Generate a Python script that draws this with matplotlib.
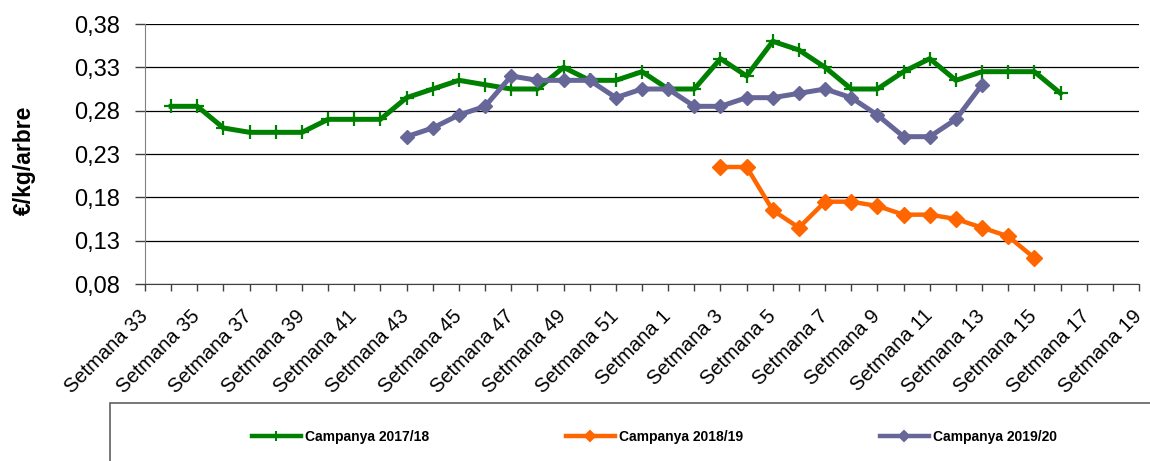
import matplotlib
matplotlib.use("Agg")
import matplotlib.pyplot as plt
import matplotlib.patches as patches
import matplotlib.transforms as mtransforms
import numpy as np

plt.rcParams['font.family'] = ['Liberation Sans', 'DejaVu Sans']

nan = np.nan

# setmanes de la campanya (33..52, 1..19)
setmanes = list(range(33, 53)) + list(range(1, 20))
etiquetes = ["Setmana %d" % s for s in setmanes]

# preus (€/kg/arbre)
campanya_1718 = [nan, 0.285, 0.285, 0.26, 0.255, 0.255, 0.255, 0.27, 0.27, 0.27,
                 0.295, 0.305, 0.315, 0.31, 0.305, 0.305, 0.33, 0.315, 0.315, 0.325,
                 0.305, 0.305, 0.34, 0.32, 0.36, 0.35, 0.33, 0.305, 0.305, 0.325,
                 0.34, 0.315, 0.325, 0.325, 0.325, 0.30, nan, nan, nan]
campanya_1819 = [nan] * 22 + [0.215, 0.215, 0.165, 0.145, 0.175, 0.175, 0.17, 0.16,
                              0.16, 0.155, 0.145, 0.135, 0.11] + [nan] * 4
campanya_1920 = [nan] * 10 + [0.25, 0.26, 0.275, 0.285, 0.32, 0.315, 0.315, 0.315,
                              0.295, 0.305, 0.305, 0.285, 0.285, 0.295, 0.295, 0.30,
                              0.305, 0.295, 0.275, 0.25, 0.25, 0.27, 0.31] + [nan] * 6

yticks = [0.08, 0.13, 0.18, 0.23, 0.28, 0.33, 0.38]

W, H = 1150, 461
fig = plt.figure(figsize=(W / 100, H / 100), dpi=100)
ax = fig.add_axes([145 / W, 1 - 284 / H, (1139 - 145) / W, (284 - 24) / H])

x = np.arange(len(setmanes))
l1, = ax.plot(x, campanya_1718, color='#008000', lw=3.6, marker='+', ms=10, mew=1.6,
              label='Campanya 2017/18', zorder=3)
l2, = ax.plot(x, campanya_1819, color='#FF6600', lw=3.2, marker='D', ms=8.5,
              label='Campanya 2018/19', zorder=3)
l3, = ax.plot(x, campanya_1920, color='#666699', lw=3.6, marker='D', ms=7.5,
              label='Campanya 2019/20', zorder=4)

ax.set_xlim(0, len(setmanes) - 1)
ax.set_ylim(0.08, 0.38)
ax.set_yticks(yticks)
ax.set_yticklabels([("%.2f" % v).replace('.', ',') for v in yticks], fontsize=17)
ax.set_xticks(x)
ax.tick_params(axis='x', length=5, width=1, color='#404040', pad=11)
ax.tick_params(axis='y', length=7, width=1, color='#404040', pad=11)
ax.set_xticklabels([e if i % 2 == 0 else '' for i, e in enumerate(etiquetes)],
                   rotation=45, ha='right', rotation_mode='anchor', fontsize=14.5)
# desplaçament a l'esquerra de les etiquetes girades
offset = mtransforms.ScaledTranslation(-0.07, 0, fig.dpi_scale_trans)
for lab in ax.get_xticklabels():
    lab.set_transform(lab.get_transform() + offset)
ax.grid(axis='y', color='#000000', lw=0.9)
ax.set_axisbelow(True)
for s in ['top', 'right']:
    ax.spines[s].set_visible(False)
ax.spines['left'].set_color('#808080')
ax.spines['bottom'].set_color('#404040')

fig.text(24 / W, 1 - 160 / H, '€/kg/arbre', rotation=90, ha='center', va='center',
         fontsize=16.5, fontweight='bold')

# caixa de la llegenda
fig.add_artist(patches.Rectangle((110 / W, -0.1), 1.2, 1 - 403 / H + 0.1,
                                 transform=fig.transFigure, fill=False,
                                 edgecolor='#606060', lw=1.2))

for line, x0 in zip([l1, l2, l3], [252, 566, 880]):
    h = plt.Line2D([], [], color=line.get_color(), lw=3.2, marker=line.get_marker(),
                   ms=7 if line.get_marker() == '+' else 5.5, mew=1.5)
    fig.legend([h], [line.get_label()], loc='center left',
               bbox_to_anchor=(x0 / W, 1 - 437 / H), frameon=False,
               prop={'weight': 'bold', 'size': 10}, handlelength=3.5,
               handletextpad=0.3, borderpad=0, borderaxespad=0)

plt.savefig('out.png', dpi=100)
